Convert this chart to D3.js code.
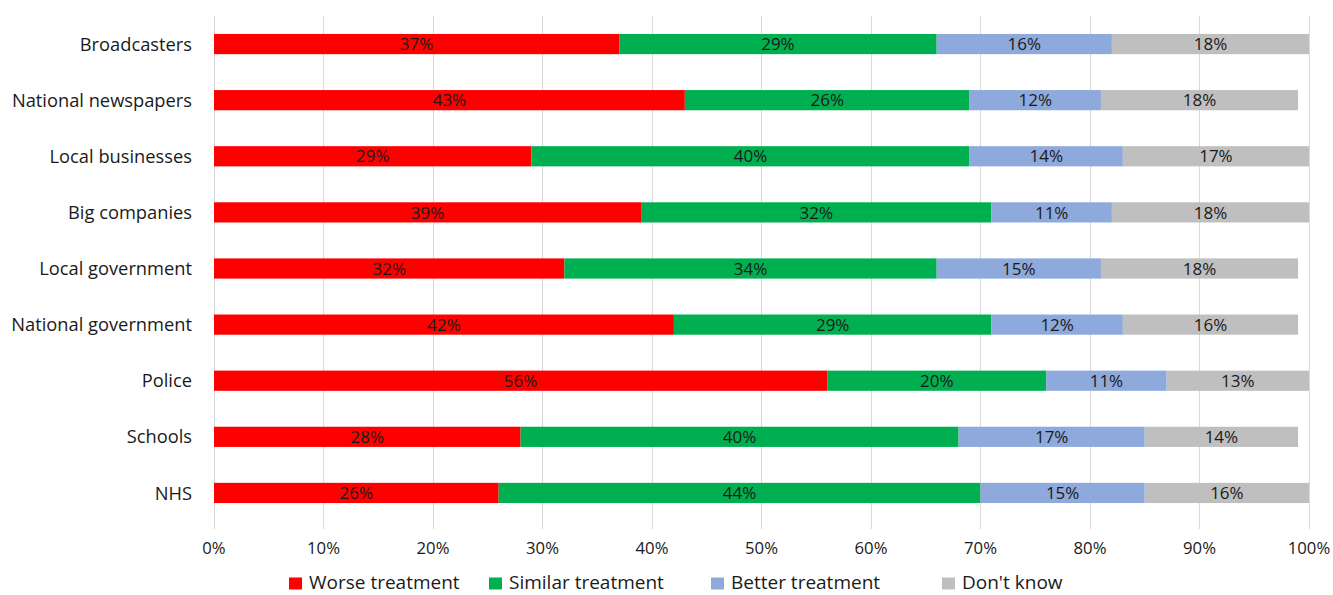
<!DOCTYPE html>
<html><head><meta charset="utf-8">
<script src="https://cdn.jsdelivr.net/npm/d3@7"></script>
<style>body{margin:0;background:#fff}text{font-family:"Open Sans",sans-serif}</style>
</head><body><svg id="c" width="1333" height="595"></svg>
<script>
const categories = ["Broadcasters","National newspapers","Local businesses","Big companies","Local government","National government","Police","Schools","NHS"];
const seriesNames = ["Worse treatment","Similar treatment","Better treatment","Don't know"];
const worse   = [37,43,29,39,32,42,56,28,26];
const similar = [29,26,40,32,34,29,20,40,44];
const better  = [16,12,14,11,15,12,11,17,15];
const dontKnow= [18,18,17,18,18,16,13,14,16];
const colors = ["#FF0000","#00B050","#8EA9DB","#BFBFBF"];
const tickValues = [0,10,20,30,40,50,60,70,80,90,100];

(function(){
const svg = d3.select("#c");
const pL = 214, pR = 1309, pT = 16, pB = 521;
const x = d3.scaleLinear().domain([0,100]).range([pL,pR]).clamp(true);
const y = d3.scaleBand().domain(categories).range([pT,pB]).paddingInner(0.64).paddingOuter(0.32);

svg.append("g").selectAll("line").data(tickValues).join("line")
  .attr("x1",d=>x(d)).attr("x2",d=>x(d)).attr("y1",pT).attr("y2",pB+8)
  .attr("stroke","#D9D9D9").attr("stroke-width",1).attr("shape-rendering","crispEdges");

const series = [worse,similar,better,dontKnow];
const rows = categories.map((c,i)=>{
  let acc=0; return series.map((s,k)=>{const seg={cat:c,k,v:s[i],x0:acc,x1:acc+s[i]}; acc+=s[i]; return seg;});
}).flat();

const g = svg.append("g");
g.selectAll("rect").data(rows).join("rect")
  .attr("x",d=>x(d.x0)).attr("width",d=>x(d.x1)-x(d.x0))
  .attr("y",d=>y(d.cat)).attr("height",y.bandwidth())
  .attr("fill",d=>colors[d.k]);
g.selectAll("text").data(rows).join("text")
  .attr("x",d=>(x(d.x0)+x(d.x1))/2).attr("y",d=>y(d.cat)+y.bandwidth()/2)
  .attr("dy","0.36em").attr("text-anchor","middle").attr("font-size",17).attr("fill","#1a1a1a")
  .text(d=>d.v+"%");

svg.append("g").selectAll("text").data(categories).join("text")
  .attr("x",192).attr("y",d=>y(d)+y.bandwidth()/2).attr("dy","0.36em")
  .attr("text-anchor","end").attr("font-size",18.3).attr("fill","#1a1a1a").text(d=>d);

svg.append("g").selectAll("text").data(tickValues).join("text")
  .attr("x",d=>x(d)).attr("y",547.5).attr("dy","0.36em").attr("text-anchor","middle")
  .attr("font-size",16.7).attr("fill","#1a1a1a").text(d=>d+"%");

const legX = [289,489,711,942];
const lg = svg.append("g").selectAll("g").data(seriesNames).join("g")
  .attr("transform",(d,i)=>`translate(${legX[i]},582)`);
lg.append("rect").attr("x",0).attr("y",-4.5).attr("width",13).attr("height",12).attr("fill",(d,i)=>colors[i]);
lg.append("text").attr("x",20).attr("y",0).attr("dy","0.36em").attr("font-size",19).attr("fill","#1a1a1a").text(d=>d);
})();
</script></body></html>
